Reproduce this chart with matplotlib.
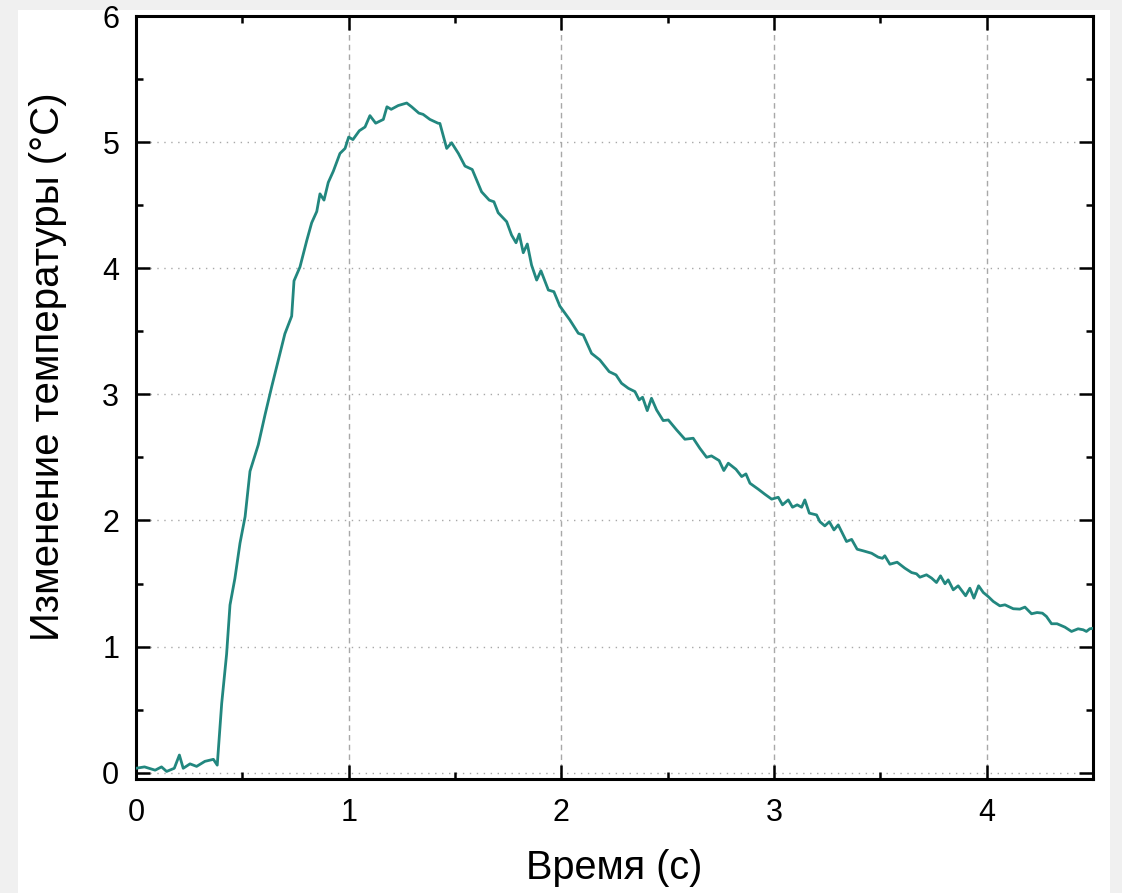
import matplotlib
matplotlib.use("Agg")
import matplotlib.pyplot as plt
from matplotlib.patches import Rectangle
from matplotlib.ticker import MultipleLocator

time_s = [0.0, 0.04, 0.09, 0.12, 0.144, 0.18, 0.204, 0.222, 0.254, 0.285, 0.324, 0.364, 0.382,
          0.403, 0.426, 0.442, 0.465, 0.489, 0.513, 0.536, 0.575, 0.607, 0.638, 0.669, 0.70,
          0.732, 0.743, 0.771, 0.803, 0.826, 0.85, 0.865, 0.884, 0.904, 0.928, 0.959, 0.983,
          1.0, 1.02, 1.05, 1.077, 1.10, 1.127, 1.163, 1.18, 1.20, 1.233, 1.273, 1.296, 1.33,
          1.35, 1.382, 1.42,
          1.429, 1.461, 1.484, 1.516, 1.547, 1.581, 1.602, 1.625, 1.661, 1.683, 1.703, 1.743,
          1.766, 1.787, 1.802, 1.821, 1.840, 1.860, 1.884, 1.904, 1.939, 1.965,
          1.993, 2.040, 2.080, 2.103, 2.142, 2.181, 2.225, 2.257, 2.283, 2.315, 2.346, 2.366,
          2.382, 2.404, 2.424, 2.448, 2.479, 2.503, 2.542, 2.581, 2.620, 2.651, 2.683, 2.706,
          2.742, 2.764, 2.785, 2.821, 2.848, 2.868, 2.887, 2.926, 2.957, 2.989, 3.020, 3.040,
          3.067, 3.087, 3.109, 3.130, 3.145, 3.166, 3.200,
          3.216, 3.239, 3.260, 3.282, 3.302, 3.341, 3.365, 3.391, 3.420, 3.459, 3.490, 3.510,
          3.521, 3.545, 3.579, 3.615, 3.647, 3.670, 3.686, 3.717, 3.741, 3.764, 3.783, 3.804,
          3.819, 3.843, 3.866, 3.901, 3.921, 3.940, 3.962, 3.984, 4.007, 4.031, 4.062, 4.086,
          4.125, 4.156, 4.180, 4.211, 4.237, 4.262, 4.281, 4.305, 4.331, 4.368, 4.399, 4.430,
          4.454, 4.469, 4.485, 4.5]

temp_change = [0.035, 0.046, 0.02, 0.046, 0.01, 0.035, 0.14, 0.035, 0.07, 0.05, 0.09, 0.106, 0.06,
               0.55, 0.94, 1.33, 1.54, 1.82, 2.03, 2.39, 2.60, 2.84, 3.06, 3.27, 3.48,
               3.62, 3.90, 4.01, 4.22, 4.36, 4.45, 4.59, 4.54, 4.68, 4.77, 4.91, 4.95,
               5.04, 5.02, 5.09, 5.12, 5.21, 5.15, 5.18, 5.28, 5.26, 5.29, 5.31, 5.28, 5.23,
               5.22, 5.18, 5.15,
               5.148, 4.95, 4.995, 4.91, 4.81, 4.783, 4.699, 4.606, 4.54, 4.527, 4.44, 4.369,
               4.263, 4.202, 4.271, 4.123, 4.192, 4.025, 3.906, 3.98, 3.827, 3.814,
               3.70, 3.59, 3.484, 3.471, 3.325, 3.273, 3.18, 3.154, 3.088, 3.048, 3.022, 2.956,
               2.977, 2.871, 2.969, 2.876, 2.792, 2.797, 2.718, 2.644, 2.652, 2.573, 2.501, 2.512,
               2.475, 2.396, 2.454, 2.406, 2.348, 2.369, 2.295, 2.248, 2.208, 2.169, 2.184, 2.124,
               2.163, 2.105, 2.124, 2.105, 2.163, 2.058, 2.044,
               1.99, 1.957, 1.99, 1.925, 1.965, 1.833, 1.85, 1.772, 1.759, 1.74, 1.709, 1.70,
               1.72, 1.653, 1.669, 1.622, 1.587, 1.577, 1.55, 1.569, 1.543, 1.508, 1.561, 1.498,
               1.529, 1.45, 1.482, 1.403, 1.463, 1.384, 1.482, 1.429, 1.397, 1.358, 1.323, 1.331,
               1.30, 1.297, 1.313, 1.26, 1.27, 1.265, 1.239, 1.181, 1.181, 1.154, 1.12, 1.141,
               1.133, 1.12, 1.141, 1.145]

x_label = "Время (с)"
y_label = "Изменение температуры (°C)"

plt.rcParams['font.family'] = ['Liberation Sans', 'DejaVu Sans']

W, H = 1122, 893
fig = plt.figure(figsize=(W / 100, H / 100), dpi=100, facecolor='#f0f0f0')
fig.patches.append(Rectangle((18 / W, 0), (1110 - 18) / W, 1 - 10 / H,
                             transform=fig.transFigure, facecolor='white',
                             edgecolor='none', zorder=-10))

ax = fig.add_axes([136 / W, 1 - 779 / H, (1093 - 136) / W, (779 - 16) / H])
ax.set_zorder(1)
ax.set_facecolor('white')

ax.plot(time_s, temp_change, color='#22877f', lw=2.0, zorder=3)

ax.set_xlim(0, 4.5)
ax.set_ylim(-0.05, 6)
ax.xaxis.set_major_locator(MultipleLocator(1))
ax.xaxis.set_minor_locator(MultipleLocator(0.5))
ax.yaxis.set_major_locator(MultipleLocator(1))
ax.yaxis.set_minor_locator(MultipleLocator(0.5))

for sp in ax.spines.values():
    sp.set_linewidth(2.2)

ax.tick_params(which='both', direction='in', top=True, right=True, width=1.8, color='black')
ax.tick_params(which='major', length=10, labelsize=22)
ax.tick_params(which='minor', length=5)
ax.tick_params(axis='y', which='major', pad=12)
ax.tick_params(axis='x', which='major', pad=14)

for yv in range(0, 6):
    ax.axhline(yv, color='#a8a8a8', lw=1.0, ls=(0, (1, 4)), zorder=1)
for xv in range(1, 5):
    ax.axvline(xv, color='#a8a8a8', lw=1.0, ls=(0, (4, 3)), zorder=1)

ax.set_xlabel(x_label, fontsize=28.5, labelpad=15)
ax.set_ylabel(y_label, fontsize=29)
ax.yaxis.set_label_coords(-0.072, 0.54)

fig.savefig('out.png', dpi=100, facecolor=fig.get_facecolor())
